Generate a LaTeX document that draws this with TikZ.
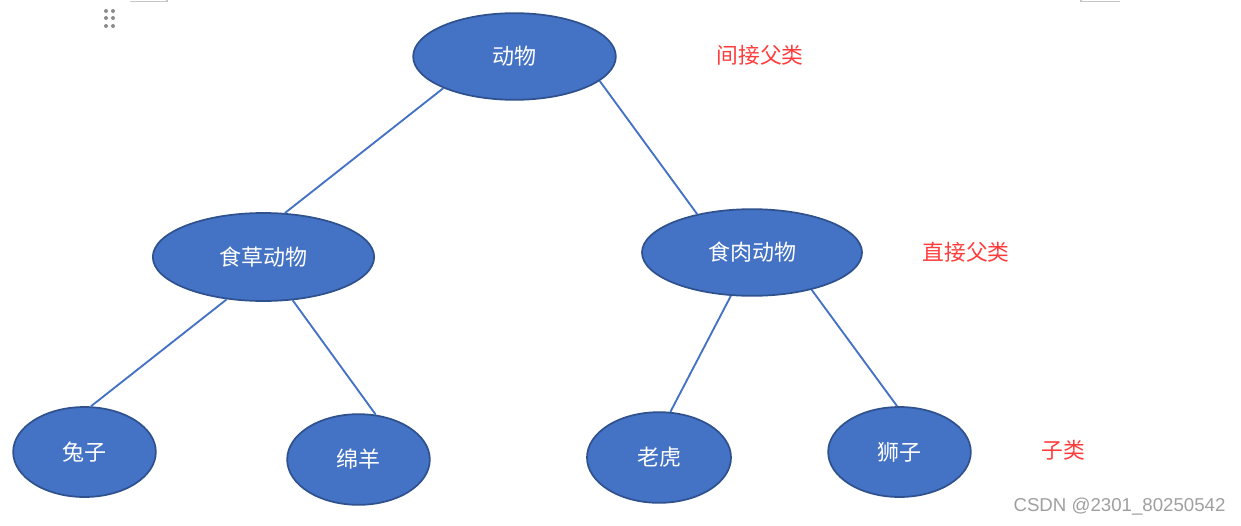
\documentclass[tikz,border=0pt]{standalone}
\usepackage{fontspec}
\newfontfamily\cjk{Noto Sans CJK SC}
\setmainfont{Liberation Sans}
\usetikzlibrary{shapes.geometric}
\definecolor{fillblue}{HTML}{4472C4}
\definecolor{edgeblue}{HTML}{2F528F}
\definecolor{labelred}{HTML}{FF3B3B}
\tikzset{
  animal/.style={ellipse, draw=edgeblue, line width=1.3pt, fill=fillblue, inner sep=0pt,
    text=white, font=\cjk\fontsize{16.5}{18}\selectfont},
  link/.style={draw=fillblue, line width=1.4pt},
  tag/.style={text=labelred, font=\cjk\fontsize{16.3}{18}\selectfont, inner sep=0pt},
}
\begin{document}
\begin{tikzpicture}[x=0.75pt,y=-0.75pt]
\useasboundingbox (0,0) rectangle (1241,525);
% UI artifacts
\foreach \xx in {106,113} \foreach \yy in {11,18,26} \fill[gray!90] (\xx,\yy) circle (2);
\draw[gray!45, line width=0.8pt] (130,1.5) -- (167,1.5) -- (167,0);
\draw[gray!45, line width=0.8pt] (1081,0) -- (1081,1.5) -- (1120,1.5);
% nodes
\node[animal, minimum width=152pt, minimum height=65pt] (dw) at (514.5,56.5) {动物};
\node[animal, minimum width=166pt, minimum height=66pt] (cc) at (263.5,257) {食草动物};
\node[animal, minimum width=165pt, minimum height=65pt] (sr) at (752,252.5) {食肉动物};
\node[animal, minimum width=107pt, minimum height=67.5pt] (tz) at (84.5,452) {兔子};
\node[animal, minimum width=107pt, minimum height=68pt] (my) at (358.5,459.5) {绵羊};
\node[animal, minimum width=108pt, minimum height=68pt] (lh) at (659,457.5) {老虎};
\node[animal, minimum width=107pt, minimum height=67.5pt] (sz) at (899.5,452) {狮子};
% connectors
\draw[link] (dw.-156.5) -- (cc.64);
\draw[link] (dw.-16.7) -- (sr.145.2);
\draw[link] (cc.-131) -- (tz.82.9);
\draw[link] (cc.-56.5) -- (my.69.7);
\draw[link] (sr.-116.8) -- (lh.76);
\draw[link] (sr.-32) -- (sz.93);
% labels
\node[tag] (l1) at (760,55) {间接父类};
\node[tag] (l2) at (966,252) {直接父类};
\node[tag] (l3) at (1063,450) {子类};
\node[text=gray!75, font=\fontsize{14}{16}\selectfont, inner sep=0pt] (wm) at (1119.5,507) {CSDN @2301\_80250542};
\end{tikzpicture}
\end{document}
